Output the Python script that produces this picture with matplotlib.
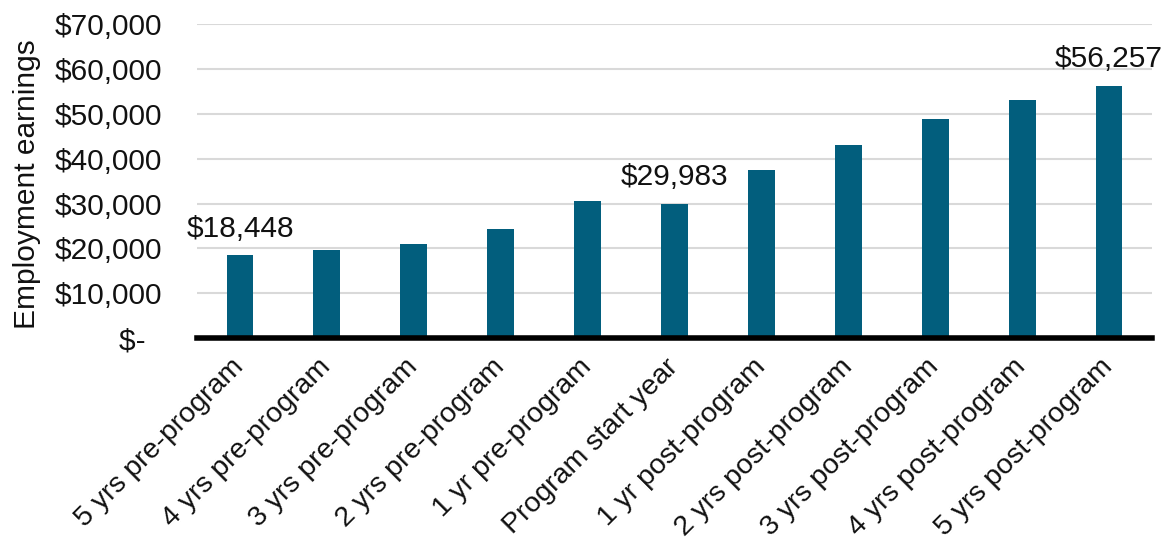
import matplotlib.pyplot as plt
from matplotlib.ticker import FuncFormatter

periods = ["5 yrs pre-program", "4 yrs pre-program", "3 yrs pre-program",
           "2 yrs pre-program", "1 yr pre-program", "Program start year",
           "1 yr post-program", "2 yrs post-program", "3 yrs post-program",
           "4 yrs post-program", "5 yrs post-program"]
earnings = [18448, 19750, 20950, 24300, 30600, 29983,
            37500, 43050, 48850, 53100, 56257]
labeled = [0, 5, 10]  # bars with a value label

plt.rcParams['font.family'] = ['Liberation Sans', 'DejaVu Sans']

fig = plt.figure(figsize=(11.7, 5.48), dpi=100)
ax = fig.add_axes([0.168, 0.383, 0.817, 0.573])

x = list(range(len(periods)))
bars = ax.bar(x, earnings, width=0.31, color='#025E7D', zorder=3)

for i in labeled:
    ax.annotate(f"${earnings[i]:,}", (x[i], earnings[i]),
                xytext=(0, 9), textcoords='offset points',
                ha='center', va='bottom', fontsize=21.5, color='#111111')

ax.set_xlim(-0.5, len(periods) - 0.5)
ax.set_ylim(0, 70000)
ax.set_yticks(range(0, 70001, 10000))
ax.yaxis.set_major_formatter(FuncFormatter(
    lambda v, p: "$-  " if v == 0 else f"${v:,.0f}"))
ax.grid(axis='y', color='#D9D9D9', linewidth=1.5, zorder=0)

ax.set_xticks(x)
ax.set_xticklabels(periods, rotation=45, ha='right', va='center',
                   rotation_mode='anchor')
ax.tick_params(axis='both', length=0, colors='#111111')
ax.tick_params(axis='y', labelsize=21.5, pad=25)
ax.tick_params(axis='x', labelsize=20.5, pad=18)

for s in ['top', 'right', 'left']:
    ax.spines[s].set_visible(False)
ax.spines['bottom'].set_linewidth(4)
ax.spines['bottom'].set_color('black')
ax.spines['bottom'].set_zorder(4)

ax.set_ylabel("Employment earnings", fontsize=21.5, color='#111111')
ax.yaxis.set_label_coords(-0.163, 0.49)

fig.savefig("out.png", dpi=100)
